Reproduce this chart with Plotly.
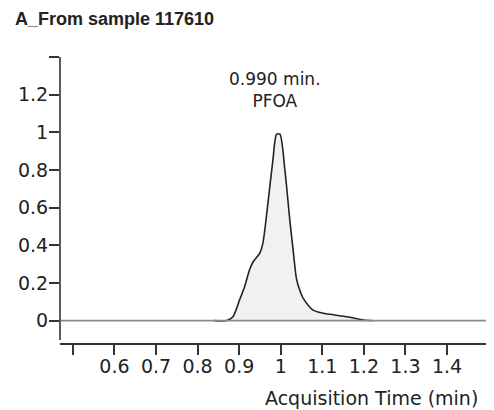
import plotly.graph_objects as go

# ---- data ----
times = [0.84, 0.87, 0.885, 0.901, 0.913, 0.925, 0.933, 0.950, 0.957, 0.969,
         0.981, 0.990, 0.998, 1.010, 1.022, 1.030, 1.038, 1.046, 1.055, 1.077,
         1.100, 1.160, 1.200, 1.220]
intensity = [0.0, 0.0, 0.02, 0.11, 0.18, 0.27, 0.31, 0.36, 0.41, 0.62,
             0.85, 0.99, 0.99, 0.80, 0.53, 0.37, 0.22, 0.16, 0.115, 0.057,
             0.04, 0.02, 0.003, 0.0]
baseline_x = [0.47, 1.513]
baseline_y = [0, 0]

x_tickvals = [0.5, 0.6, 0.7, 0.8, 0.9, 1.0, 1.1, 1.2, 1.3, 1.4]
x_ticktext = ["", "0.6", "0.7", "0.8", "0.9", "1", "1.1", "1.2", "1.3", "1.4"]
y_tickvals = [0, 0.2, 0.4, 0.6, 0.8, 1.0, 1.2, 1.4]
y_ticktext = ["0", "0.2", "0.4", "0.6", "0.8", "1", "1.2", ""]

title_text = "A_From sample 117610"
peak_label = "0.990 min.<br>PFOA"
x_title = "Acquisition Time (min)"

X_RANGE = [0.469, 1.513]
Y_RANGE = [-0.119, 1.4]
Y_LINE = [-0.103, 1.4]

ink = "#222222"
font = "DejaVu Sans"

fig = go.Figure()
fig.add_trace(go.Scatter(
    x=times, y=intensity, mode="lines",
    line=dict(color=ink, width=1.6, shape="spline", smoothing=0.7),
    fill="tozeroy", fillcolor="#f1f1f1", hoverinfo="skip"))
fig.add_trace(go.Scatter(
    x=baseline_x, y=baseline_y, mode="lines",
    line=dict(color="#8a8a8a", width=1.6), hoverinfo="skip"))

# page body has an 8px margin, so the figure is sized/offset to compensate
fig.update_layout(
    width=486, height=402, showlegend=False,
    paper_bgcolor="white", plot_bgcolor="white",
    margin=dict(l=52, r=0, t=49, b=67),
    font=dict(family=font, size=19, color=ink),
)
fig.update_xaxes(
    range=X_RANGE, showgrid=False, zeroline=False,
    showline=True, linecolor="#333333", linewidth=1.6,
    ticks="outside", ticklen=10, tickwidth=1.6, tickcolor="#333333",
    tickvals=x_tickvals, ticktext=x_ticktext, ticklabelstandoff=-5,
)
fig.update_yaxes(
    range=Y_RANGE, showgrid=False, zeroline=False, showline=False,
    ticks="outside", ticklen=10, tickwidth=1.6, tickcolor="#333333",
    tickvals=y_tickvals, ticktext=y_ticktext, ticklabelstandoff=-3,
)
fig.add_shape(type="line", xref="paper", yref="y", x0=0, x1=0,
              y0=Y_LINE[0], y1=Y_LINE[1],
              line=dict(color="#333333", width=1.6))

fig.add_annotation(text="<b>" + title_text + "</b>", xref="paper", yref="paper",
                   x=-0.108, y=1.1346, xanchor="left", yanchor="middle",
                   showarrow=False,
                   font=dict(family="Liberation Sans", size=18, color=ink))
fig.add_annotation(text=peak_label, x=0.987, y=1.225, xref="x", yref="y",
                   showarrow=False, xanchor="center", yanchor="middle",
                   align="center",
                   font=dict(family=font, size=17, color=ink))
fig.add_annotation(text=x_title, x=0.9677, y=-0.1923, xref="paper", yref="paper",
                   showarrow=False, xanchor="right", yanchor="middle",
                   font=dict(family=font, size=19, color=ink))

fig.write_html("out.html")
